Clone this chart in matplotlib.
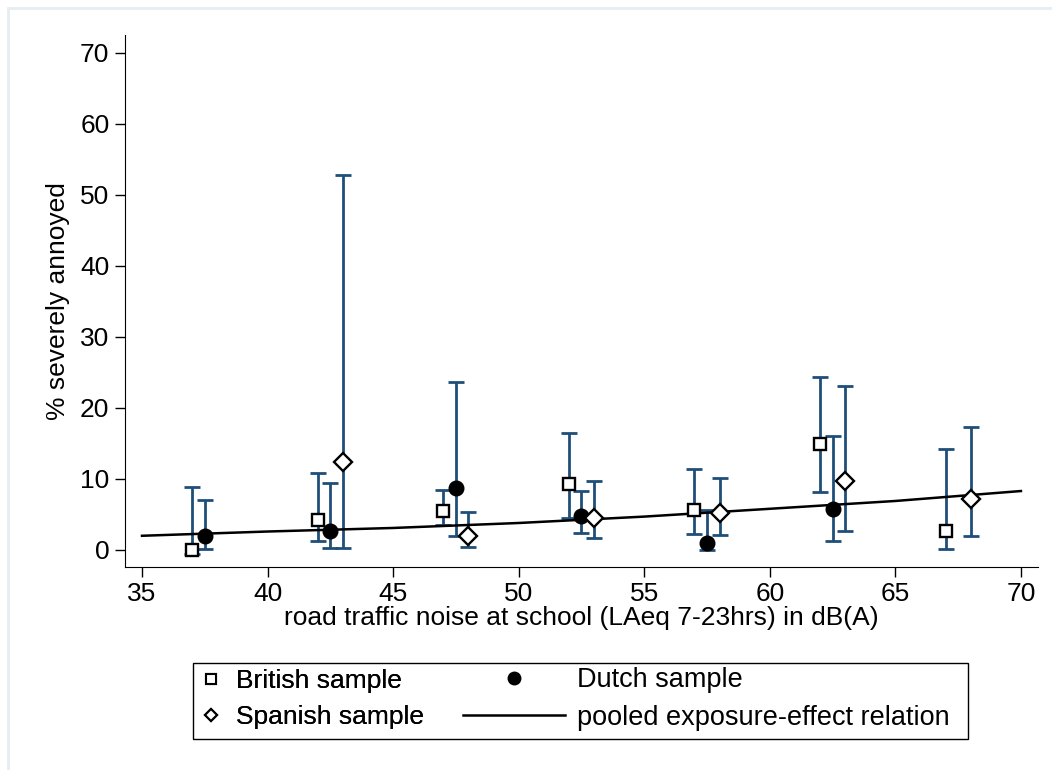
import matplotlib
matplotlib.use("Agg")
import matplotlib.pyplot as plt
import numpy as np
from matplotlib.lines import Line2D
from matplotlib.patches import Rectangle

plt.rcParams['font.family'] = ['Liberation Sans', 'DejaVu Sans']

# valeurs
british_x = [37, 42, 47, 52, 57, 62, 67]
british_y = [0.0, 4.2, 5.5, 9.25, 5.6, 14.9, 2.7]
british_lo = [-0.6, 1.2, 3.5, 4.55, 2.25, 8.2, 0.1]
british_hi = [8.8, 10.9, 8.45, 16.4, 11.45, 24.3, 14.2]

dutch_x = [37.5, 42.5, 47.5, 52.5, 57.5, 62.5]
dutch_y = [2.0, 2.7, 8.7, 4.8, 1.0, 5.7]
dutch_lo = [0.2, 0.3, 1.9, 2.35, 0.0, 1.2]
dutch_hi = [7.0, 9.4, 23.7, 8.3, 5.6, 16.0]

spanish_x = [43, 48, 53, 58, 63, 68]
spanish_y = [12.4, 1.9, 4.55, 5.15, 9.7, 7.15]
spanish_lo = [0.3, 0.4, 1.75, 2.1, 2.7, 2.0]
spanish_hi = [52.8, 5.4, 9.7, 10.2, 23.1, 17.3]

pooled_x = [35, 40, 45, 50, 55, 60, 65, 70]
pooled_y = [2.0, 2.6, 3.1, 3.8, 4.7, 5.8, 6.9, 8.3]

x_ticks = [35, 40, 45, 50, 55, 60, 65, 70]
y_ticks = [0, 10, 20, 30, 40, 50, 60, 70]

bar_col = '#1f4e79'
fs = 19

fig = plt.figure(figsize=(10.52, 7.70), dpi=100)
ax = fig.add_axes([0.1185, 0.2636, 0.8682, 0.6909])

# intervalles de confiance
for xs, ys, lo, hi in [(british_x, british_y, british_lo, british_hi),
                       (dutch_x, dutch_y, dutch_lo, dutch_hi),
                       (spanish_x, spanish_y, spanish_lo, spanish_hi)]:
    ys = np.array(ys)
    err = [ys - np.array(lo), np.array(hi) - ys]
    ax.errorbar(xs, ys, yerr=err, fmt='none', ecolor=bar_col,
                elinewidth=2, capsize=5.5, capthick=2, zorder=2)

ax.plot(pooled_x, pooled_y, color='black', lw=1.8, zorder=3)

ax.plot(british_x, british_y, 's', ms=9, mfc='white', mec='black', mew=1.7,
        ls='none', zorder=4)
ax.plot(dutch_x, dutch_y, 'o', ms=10.5, mfc='black', mec='black',
        ls='none', zorder=4)
ax.plot(spanish_x, spanish_y, 'D', ms=8.7, mfc='white', mec='black', mew=1.7,
        ls='none', zorder=4)

ax.set_xlim(34.31, 70.68)
ax.set_ylim(-2.4, 72.5)
ax.set_xticks(x_ticks)
ax.set_yticks(y_ticks)
ax.spines['top'].set_visible(False)
ax.spines['right'].set_visible(False)
ax.tick_params(direction='out', length=7, width=1, labelsize=fs, pad=4)
ax.set_xlabel('road traffic noise at school (LAeq 7-23hrs) in dB(A)', fontsize=fs, labelpad=0)
ax.set_ylabel('% severely annoyed', fontsize=fs, labelpad=7)

# légende en deux colonnes
h_brit = Line2D([], [], marker='s', ms=7, mfc='white', mec='black', mew=1.5, ls='none')
h_span = Line2D([], [], marker='D', ms=6.5, mfc='white', mec='black', mew=1.5, ls='none')
h_dutch = Line2D([], [], marker='o', ms=9, mfc='black', mec='black', ls='none')
h_pool = Line2D([], [], color='black', lw=1.8)

leg1 = fig.legend([h_brit, h_span], ['British sample', 'Spanish sample'],
                  loc='center left', bbox_to_anchor=(197.5 / 1052, 1 - 699 / 770),
                  frameon=False, fontsize=fs, handlelength=1.0,
                  handletextpad=0.45, labelspacing=0.45, borderpad=0, borderaxespad=0)
leg2 = fig.legend([h_dutch, h_pool], ['Dutch sample', 'pooled exposure-effect relation'],
                  loc='center left', bbox_to_anchor=(463 / 1052, 1 - 699 / 770),
                  frameon=False, fontsize=19.5, handlelength=3.75,
                  handletextpad=0.45, labelspacing=0.42, borderpad=0, borderaxespad=0)
fig.add_artist(leg1)

fig.add_artist(Rectangle((193 / 1052, 1 - 739 / 770), 775 / 1052, 76 / 770,
                         transform=fig.transFigure, fill=False, ec='black', lw=1))
# bordure claire autour du graphique
fig.add_artist(Rectangle((8 / 1052, -0.1), 1.2, 1.1 - 8 / 770,
                         transform=fig.transFigure, fill=False, ec='#e6eef2', lw=2))

fig.savefig('out.png', dpi=100)
